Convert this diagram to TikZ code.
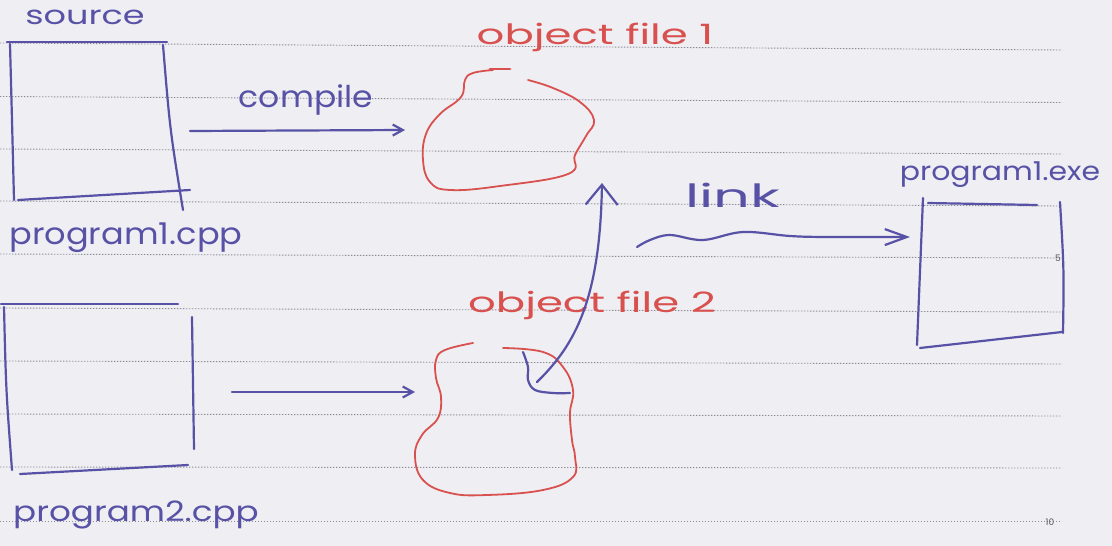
\documentclass[tikz,border=0pt]{standalone}
\usepackage{fontspec}
\setmainfont{Poppins}
\usepackage{graphicx}
\usetikzlibrary{arrows.meta}
\definecolor{paper}{HTML}{EEEEF3}
\definecolor{ink}{HTML}{5852A6}
\definecolor{redink}{HTML}{D9514F}
\definecolor{rulecol}{HTML}{8C8C94}
\newcommand\handw[3]{\scalebox{#2}[1]{\fontsize{#1}{#1}\selectfont #3}}
\begin{document}
\begin{tikzpicture}[x=1pt,y=-1pt,
  pen/.style={draw=ink,line width=2.2pt,line cap=round,line join=round},
  redpen/.style={draw=redink,line width=1.8pt,line cap=round,line join=round},
  bluetext/.style={text=ink,inner sep=0pt},
  redtext/.style={text=redink,inner sep=0pt},
  ruled/.style={draw=rulecol,line width=0.9pt,dash pattern=on 1.3pt off 1.7pt},
  pagenum/.style={text=black!65,font=\fontsize{9}{10}\selectfont,inner sep=0pt},
  smallbarb/.style={-{Straight Barb[length=10pt,width=11pt]}},
]
\fill[paper] (0,0) rectangle (1112,546);
\useasboundingbox (0,0) rectangle (1112,546);

% ruled lines of the paper
\foreach \yy/\tt in {43/7,96.5/6,149/5,201/5,254/4,308/4,361/3,414/2,467/1,521.5/0}
  \draw[ruled] (0,\yy) -- (1062,\yy+\tt);
\node[pagenum] (p5) at (1058,258) {5};
\node[pagenum] (p10) at (1050,522) {10};

% source box 1
\draw[pen] (7,42) -- (167,42);
\draw[pen] (10,44) .. controls (12,120) .. (14,200);
\draw[pen] (18,200) -- (190,190);
\draw[pen] (163,45) .. controls (170,130) .. (183,210);

% source box 2
\draw[pen] (1,304) -- (178,304);
\draw[pen] (4,307) .. controls (6,390) .. (12,470);
\draw[pen] (20,474) -- (188,465);
\draw[pen] (192,317) -- (194,449);

% output box
\draw[pen] (923,198) -- (917,345);
\draw[pen] (928,203) -- (1037,205);
\draw[pen] (1060,202) .. controls (1064,270) .. (1063,333);
\draw[pen] (920,348) -- (1062,332);

% object file blobs
\draw[redpen] plot[smooth,tension=0.7] coordinates {(528,80) (553,88) (580,102) (594,120) (586,136) (575,155) (568,174) (500,186) (450,190) (430,182) (423,160) (426,134) (440,114) (461,97) (465,80) (473,73) (493,70)};
\draw[redpen,line width=2.8pt] (490,69) -- (510,69);
\draw[redpen] plot[smooth,tension=0.7] coordinates {(503,348) (543,352) (563,367) (573,390) (570,413) (572,440) (575,457) (573,477) (543,490) (487,495) (450,493) (423,480) (415,455) (422,435) (438,418) (441,397) (436,378) (436,360) (445,350) (473,343)};
\draw[pen] plot[smooth,tension=0.6] coordinates {(523,352) (528,367) (528,380) (535,390) (553,393) (570,393)};

% labels
\node[bluetext] (lsource) at (85,17) {\handw{26}{1.35}{source}};
\node[bluetext] (lprog1) at (126,238) {\handw{30}{1.12}{program1.cpp}};
\node[bluetext] (lcompile) at (306,100) {\handw{30}{1.1}{compile}};
\node[redtext] (lobj1) at (595,37) {\handw{28}{1.55}{object file 1}};
\node[redtext] (lobj2) at (592,305) {\handw{28}{1.55}{object file 2}};
\node[bluetext] (llink) at (733,195) {\handw{32}{1.8}{link}};
\node[bluetext] (lexe) at (1000,175) {\handw{26}{1.15}{program1.exe}};
\node[bluetext] (lprog2) at (136,515) {\handw{28}{1.22}{program2.cpp}};

% connectors
\coordinate (c1s) at (190,131);
\coordinate (c1e) at (405,130);
\draw[pen,smallbarb] (c1s) -- (c1e);
\coordinate (c2s) at (232,392);
\coordinate (c2e) at (415,392);
\draw[pen,smallbarb] (c2s) -- (c2e);
\coordinate (ups) at (537,382);
\coordinate (upe) at (602,183);
\draw[pen,-{Straight Barb[length=20pt,width=32pt]}] (ups) .. controls (575,345) and (600,300) .. (upe);
\coordinate (lks) at (637,247);
\coordinate (lke) at (910,237);
\draw[pen,-{Straight Barb[length=22pt,width=16pt]}] plot[smooth,tension=0.6] coordinates {(lks) (650,240) (670,235) (703,240) (743,232) (790,236) (827,237) (lke)};
\end{tikzpicture}
\end{document}
